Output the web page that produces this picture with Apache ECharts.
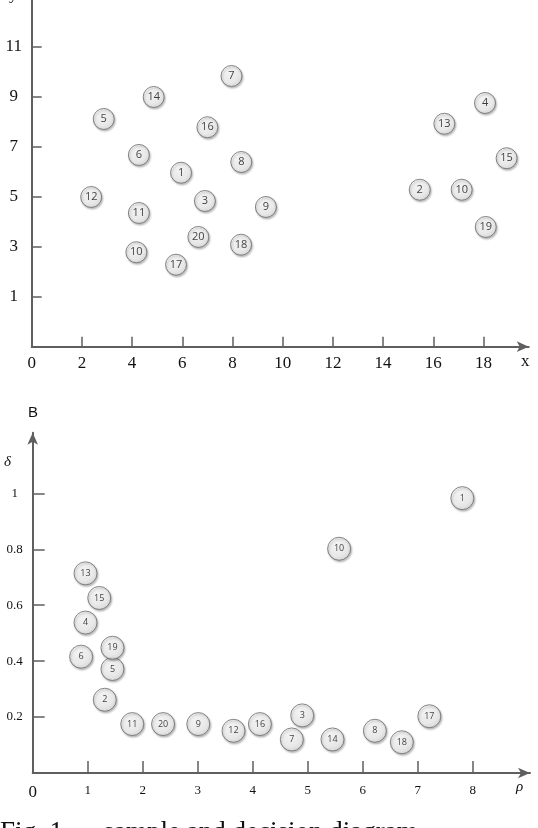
<!DOCTYPE html>
<html>
<head>
<meta charset="utf-8">
<script src="https://cdn.jsdelivr.net/npm/echarts@6/dist/echarts.min.js"></script>
<style>
  html, body { margin: 0; padding: 0; background: #fff; }
  #chart { width: 538px; height: 828px; }
</style>
</head>
<body>
<div id="chart"></div>
<script>
// A: sample points (x, y)
const topIds = [1, 2, 3, 4, 5, 6, 7, 8, 9, 10, 11, 12, 13, 14, 15, 16, 17, 18, 19, 20, 10]
const topX = [5.95, 15.46, 6.9, 18.06, 2.87, 4.27, 7.96, 8.35, 9.33, 17.13, 4.27, 2.37, 16.44, 4.86, 18.92, 7.0, 5.75, 8.34, 18.09, 6.64, 4.17]
const topY = [5.96, 5.28, 4.83, 8.75, 8.11, 6.67, 9.83, 6.39, 4.59, 5.28, 4.35, 4.99, 7.92, 8.99, 6.54, 7.78, 2.28, 3.08, 3.79, 3.39, 2.78]
const topXTicks = [2, 4, 6, 8, 10, 12, 14, 16, 18]
const topXLabels = [0, 2, 4, 6, 8, 10, 12, 14, 16, 18]
const topYTicks = [1, 3, 5, 7, 9, 11]

// B: decision diagram (rho, delta)
const botIds = [1, 2, 3, 4, 5, 6, 7, 8, 9, 10, 11, 12, 13, 14, 15, 16, 17, 18, 19, 20]
const botRho = [7.81, 1.31, 4.9, 0.96, 1.45, 0.88, 4.71, 6.22, 3.01, 5.57, 1.81, 3.65, 0.96, 5.45, 1.21, 4.13, 7.21, 6.71, 1.45, 2.37]
const botDelta = [0.983, 0.262, 0.206, 0.538, 0.372, 0.416, 0.12, 0.151, 0.175, 0.802, 0.175, 0.151, 0.714, 0.12, 0.626, 0.175, 0.203, 0.11, 0.448, 0.175]
const botXTicks = [1, 2, 3, 4, 5, 6, 7, 8]
const botXLabels = [0, 1, 2, 3, 4, 5, 6, 7, 8]
const botYTicks = [0.2, 0.4, 0.6, 0.8, 1]

const serif = '"Liberation Serif", "DejaVu Serif", serif'
const axisColor = '#5f5f5f'

const bubble = {
  color: {
    type: 'radial', x: 0.4, y: 0.35, r: 0.75,
    colorStops: [{offset: 0, color: '#ffffff'}, {offset: 0.6, color: '#f2f2f2'}, {offset: 1, color: '#d4d4d4'}]
  },
  borderColor: '#6a6a6a',
  borderWidth: 1,
  shadowBlur: 2,
  shadowOffsetX: 1,
  shadowOffsetY: 1.5,
  shadowColor: 'rgba(0,0,0,0.3)'
}

function makeAxis(opt) {
  return {
    type: 'value',
    gridIndex: opt.grid,
    min: opt.min,
    max: opt.max,
    splitLine: {show: false},
    axisLine: {
      onZero: false,
      symbol: opt.arrow ? ['none', 'arrow'] : 'none',
      symbolSize: [8, 12],
      lineStyle: {color: axisColor, width: 2}
    },
    axisTick: {
      inside: true,
      length: opt.tickLen,
      customValues: opt.ticks,
      lineStyle: {color: axisColor, width: 1.5}
    },
    axisLabel: {
      customValues: opt.labels,
      margin: opt.margin,
      align: opt.align,
      color: '#111',
      fontFamily: serif,
      fontSize: opt.fontSize,
      formatter: opt.formatter,
      rich: {z: {fontSize: 17, fontFamily: serif, color: '#111'}}
    }
  }
}

const chart = echarts.init(document.getElementById('chart'))

chart.setOption({
  backgroundColor: '#fff',
  animation: false,
  grid: [
    {left: 31.7, top: 0, width: 497, height: 346.7},
    {left: 32.7, top: 432.7, width: 497.3, height: 340.3}
  ],
  xAxis: [
    makeAxis({grid: 0, min: 0, max: 19.8, arrow: true, tickLen: 10, ticks: topXTicks, labels: topXLabels, margin: 8, fontSize: 17}),
    makeAxis({grid: 1, min: 0, max: 9.04, arrow: true, tickLen: 12, ticks: botXTicks, labels: botXLabels, margin: 11, fontSize: 13,
      formatter: v => v === 0 ? '{z|0}' : String(v)})
  ],
  yAxis: [
    makeAxis({grid: 0, min: -1, max: 12.87, arrow: false, tickLen: 10, ticks: topYTicks, labels: topYTicks, margin: 18, align: 'center', fontSize: 17}),
    makeAxis({grid: 1, min: 0, max: 1.217, arrow: true, tickLen: 12, ticks: botYTicks, labels: botYTicks, margin: 18, align: 'center', fontSize: 13})
  ],
  series: [
    {
      type: 'scatter',
      xAxisIndex: 0,
      yAxisIndex: 0,
      symbolSize: 21,
      data: topX.map((x, i) => [x, topY[i], topIds[i]]),
      itemStyle: bubble,
      label: {
        show: true, position: 'inside',
        formatter: p => p.value[2],
        color: '#111', fontSize: 11, fontFamily: '"Open Sans", sans-serif'
      }
    },
    {
      type: 'scatter',
      xAxisIndex: 1,
      yAxisIndex: 1,
      symbolSize: 23,
      data: botRho.map((x, i) => [x, botDelta[i], botIds[i]]),
      itemStyle: bubble,
      label: {
        show: true, position: 'inside',
        formatter: p => p.value[2],
        color: '#111', fontSize: 9, fontFamily: '"Open Sans", sans-serif'
      }
    }
  ],
  graphic: [
    {type: 'text', left: 9, top: -14, style: {text: 'y', font: '17px ' + serif, fill: '#111'}},
    {type: 'text', left: 521, top: 353, style: {text: 'x', font: '17px ' + serif, fill: '#111'}},
    {type: 'text', left: 28, top: 405, style: {text: 'B', font: '15px "Liberation Sans", sans-serif', fill: '#111'}},
    {type: 'text', left: 4, top: 455, style: {text: 'δ', font: 'italic 15px ' + serif, fill: '#111'}},
    {type: 'text', left: 516, top: 780, style: {text: 'ρ', font: 'italic 15px ' + serif, fill: '#111'}},
    {type: 'text', left: 0, top: 819, style: {text: 'Fig. 1      sample and decision diagram', font: '27px ' + serif, fill: '#111'}}
  ]
})
</script>
</body>
</html>
